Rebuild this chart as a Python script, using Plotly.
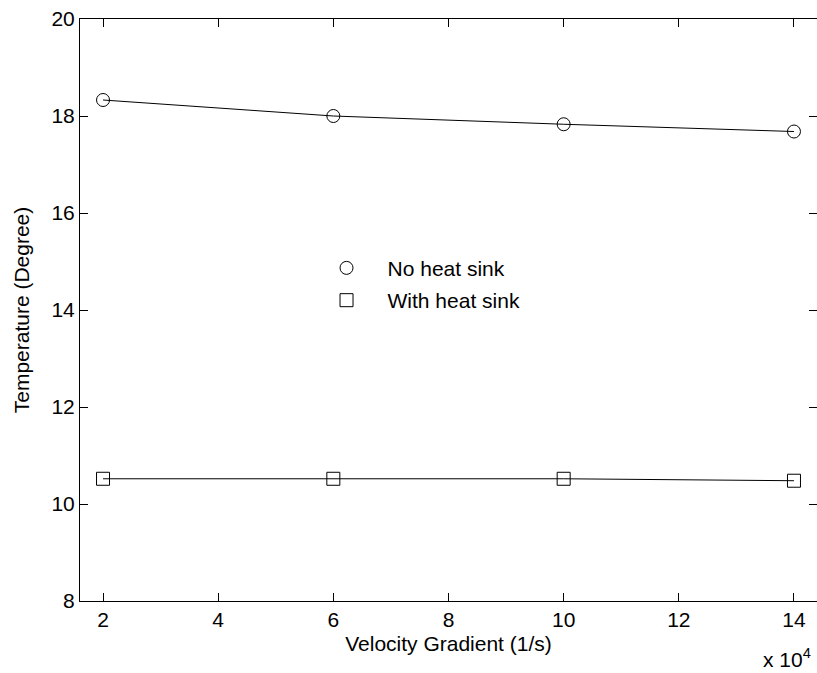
import plotly.graph_objects as go

velocity = [2, 6, 10, 14]
no_sink = [18.33, 18.0, 17.83, 17.68]
with_sink = [10.52, 10.52, 10.52, 10.48]
x_ticks = [2, 4, 6, 8, 10, 12, 14]
y_ticks = [8, 10, 12, 14, 16, 18, 20]

FONT = dict(family="Liberation Sans, Arial, sans-serif", size=21, color="black")

fig = go.Figure()
for name, ys, sym in [("No heat sink", no_sink, "circle-open"),
                      ("With heat sink", with_sink, "square-open")]:
    fig.add_trace(go.Scatter(x=velocity, y=ys, mode="lines", showlegend=False,
                             line=dict(color="black", width=1)))
    fig.add_trace(go.Scatter(x=velocity, y=ys, mode="markers", name=name,
                             legendgroup=name,
                             marker=dict(symbol=sym, size=13, color="black",
                                         line=dict(color="black", width=1))))

axis_common = dict(showline=True, linecolor="black", linewidth=1, mirror="ticks",
                   ticks="inside", ticklen=8, tickcolor="black", tickwidth=1,
                   showgrid=False, zeroline=False, tickfont=FONT)

fig.update_layout(
    width=817, height=673,
    margin=dict(l=80, r=0, t=19, b=72),
    paper_bgcolor="white", plot_bgcolor="white",
    font=FONT,
    xaxis=dict(range=[1.6, 14.4], tickvals=x_ticks, **axis_common,
               title=dict(text="Velocity Gradient (1/s)", font=FONT, standoff=6)),
    yaxis=dict(range=[8, 20], tickvals=y_ticks, **axis_common,
               title=dict(text="Temperature (Degree)", font=FONT, standoff=16)),
    legend=dict(x=0.306, y=0.607, xanchor="left", yanchor="top",
                bgcolor="rgba(0,0,0,0)", borderwidth=0, font=FONT,
                itemwidth=72,
                tracegroupgap=2, traceorder="grouped"),
    annotations=[dict(text="x 10<sup>4</sup>", xref="paper", yref="paper",
                      x=1.0, y=-0.098, xanchor="right", yanchor="middle",
                      xshift=-4, showarrow=False, font=FONT)],
)

fig.write_html("out.html")
